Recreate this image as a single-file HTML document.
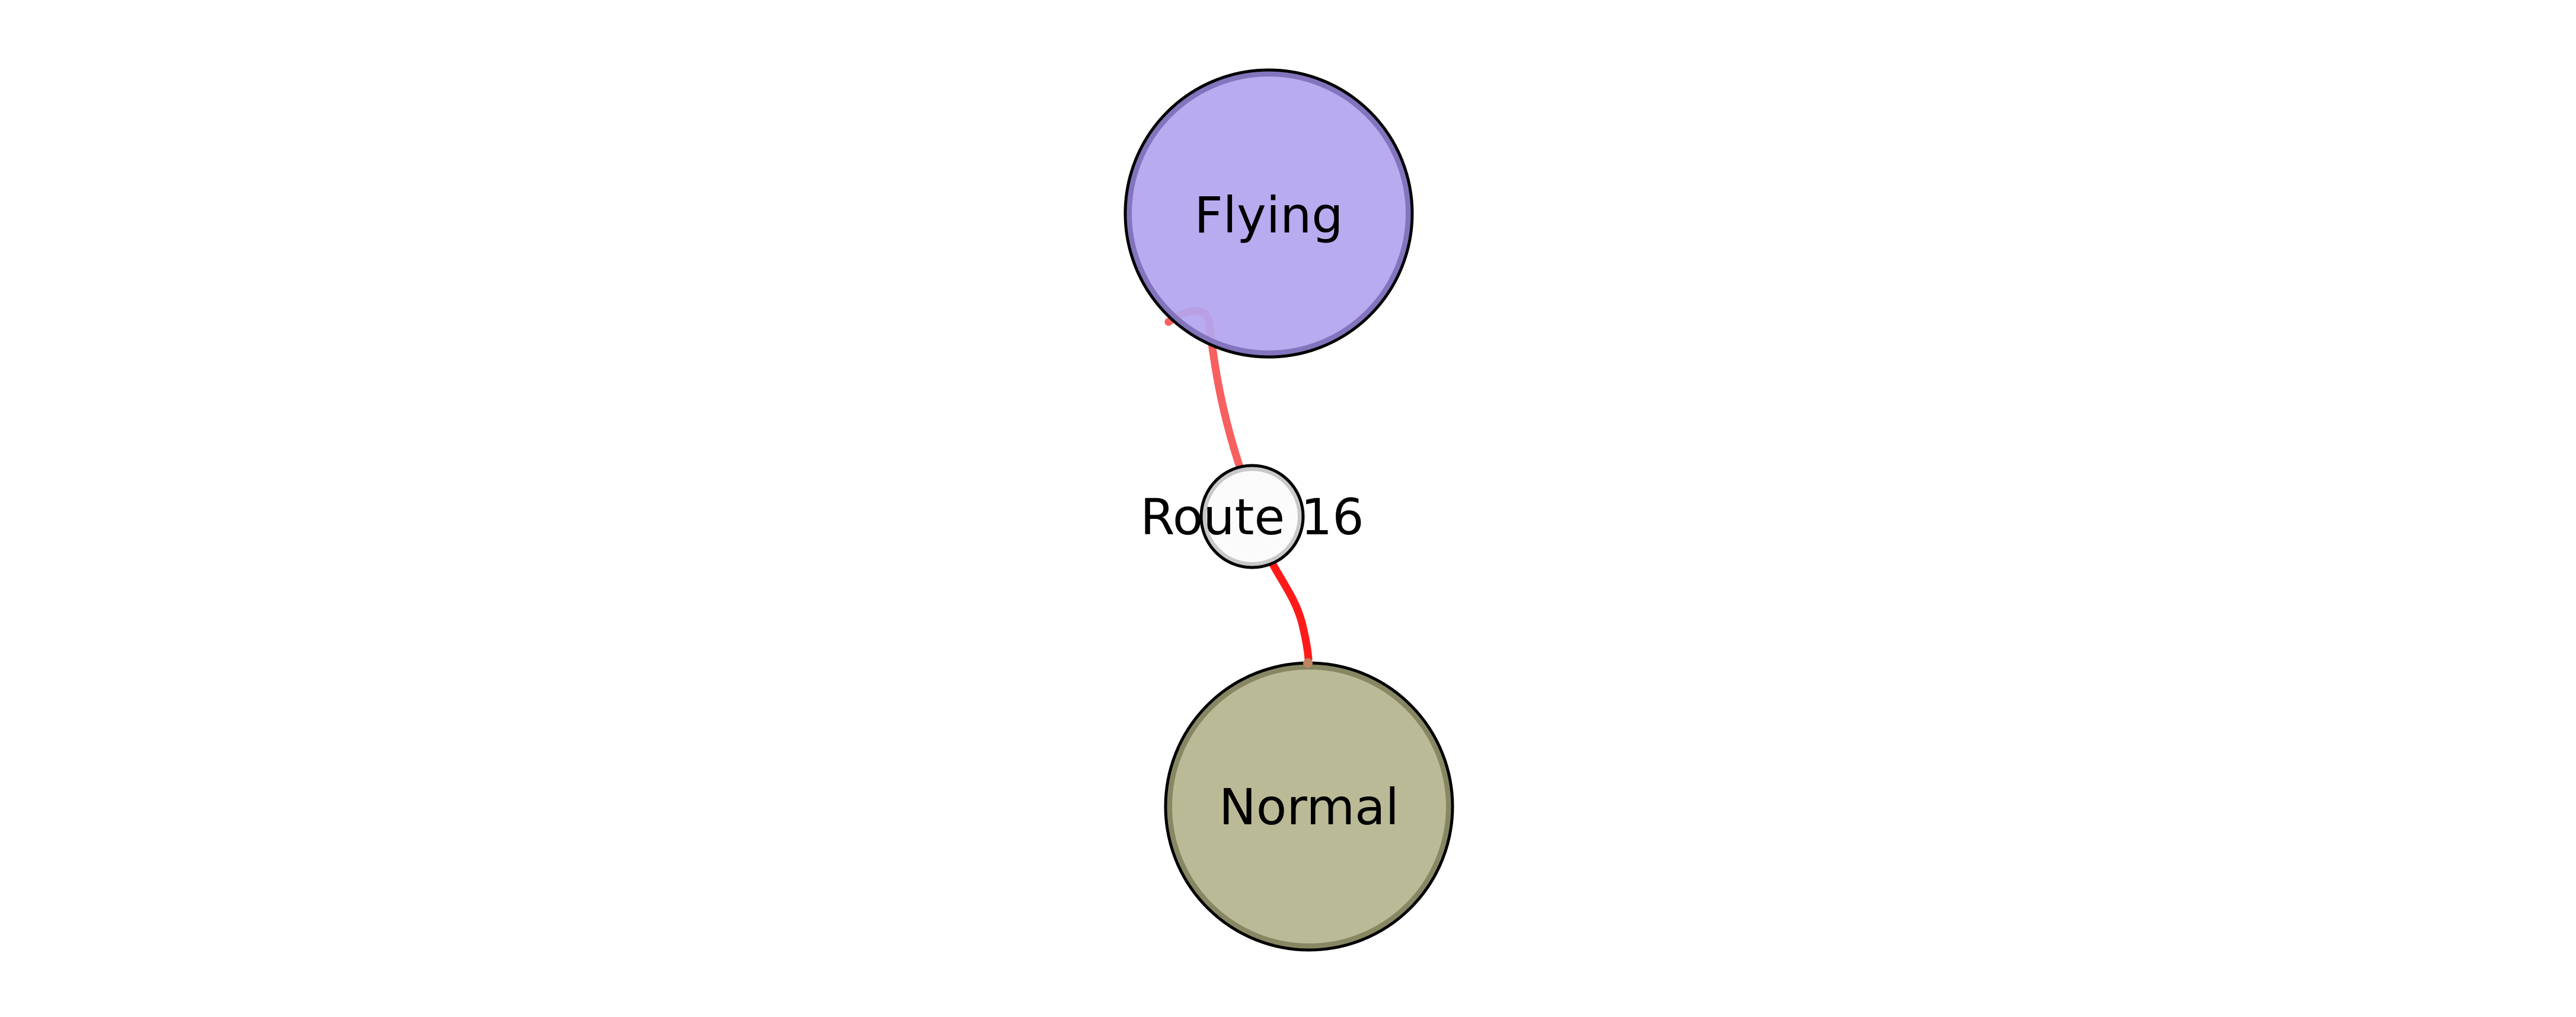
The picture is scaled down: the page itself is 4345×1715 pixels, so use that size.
<!DOCTYPE html>
<html><head><meta charset="utf-8"><style>
html,body{margin:0;padding:0;background:#fff;}
svg{display:block;}
text{font-family:"DejaVu Sans","Liberation Sans",sans-serif;font-size:84px;fill:#000;text-anchor:middle;}
</style></head><body>
<svg width="4345" height="1715" viewBox="0 0 4345 1715">
<g>
<path d="M1971,543 C1995,525 2035,510 2040,545 C2048,620 2062,700 2092,790" fill="none" stroke="#f85f5f" stroke-width="13" stroke-linecap="round"/>
<path d="M2145,948 C2165,985 2185,1010 2196,1050 C2202,1075 2206,1095 2207,1112" fill="none" stroke="#ff1a1a" stroke-width="13" stroke-linecap="round"/>
</g>
<g>
<circle cx="2140" cy="360" r="236" fill="#b4a5ee" fill-opacity="0.93" stroke="#8374bd" stroke-width="10"/>
<circle cx="2140" cy="360" r="242" fill="none" stroke="#000" stroke-width="5"/>
<text x="2140" y="392">Flying</text>
</g>
<g>
<circle cx="2208" cy="1360" r="236" fill="#b8b893" fill-opacity="0.97" stroke="#878763" stroke-width="10"/>
<circle cx="2208" cy="1360" r="242" fill="none" stroke="#000" stroke-width="5"/>
<circle cx="2206" cy="1118" r="8" fill="#c0845e"/>
<text x="2208" y="1390">Normal</text>
</g>
<g>
<circle cx="2112" cy="871" r="81" fill="#fbfbfb" stroke="#c8c8c8" stroke-width="8"/>
<circle cx="2112" cy="871" r="86" fill="none" stroke="#000" stroke-width="5"/>
<text x="2112" y="901">Route 16</text>
</g>
</svg>
</body></html>
